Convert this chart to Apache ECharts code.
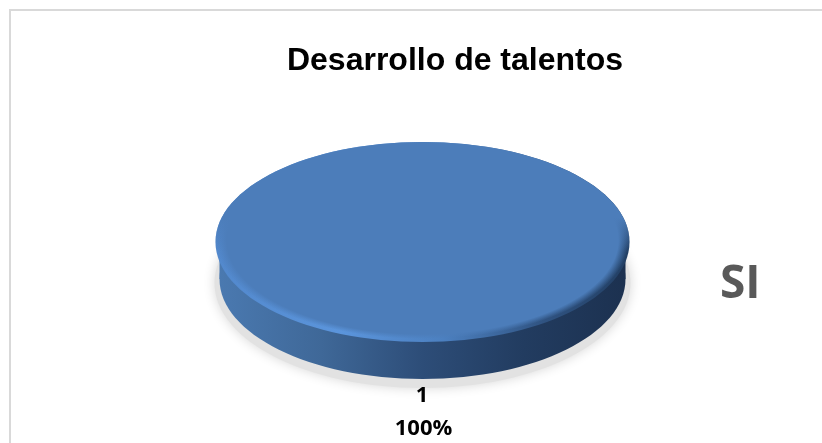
<!DOCTYPE html>
<html>
<head>
<meta charset="utf-8">
<style>html,body{margin:0;padding:0;background:#fff}#chart{width:822px;height:443px}</style>
<script src="https://cdn.jsdelivr.net/npm/echarts@6/dist/echarts.min.js"></script>
</head>
<body>
<div id="chart"></div>
<script>
const chartTitle = 'Desarrollo de talentos';
const sliceCategories = ['1'];
const sliceValues = [1];
const legendNames = ['SI'];

// Disc geometry for the tilted pie
const CX = 422.5, CY = 242, RX = 207, RY = 100, DEPTH = 37;
const FACE = '#4c7dba';
const FACE_CLEAR = 'rgba(76,125,186,0)';
const total = sliceValues.reduce((a, b) => a + b, 0);

function ellipse(cx, cy, rx, ry, style) {
  return { type: 'ellipse', shape: { cx, cy, rx, ry }, style };
}
function gradient(x2, y2, stops) {
  return {
    type: 'linear', x: 0, y: 0, x2, y2,
    colorStops: stops.map(([offset, color]) => ({ offset, color }))
  };
}

function renderDisc(params, api) {
  const value = api.value(0);
  const start = -Math.PI / 2;
  const end = start + (value / total) * Math.PI * 2;
  const wall = gradient(1, 0, [[0, '#4a79b0'], [0.25, '#3f6898'], [0.5, '#2d4d78'], [0.75, '#223c60'], [1, '#1c3150']]);
  const rim = gradient(1, 0, [[0, '#5288cc'], [0.3, '#5b95dc'], [0.55, '#4c80c0'], [0.8, '#2f5280'], [1, '#223f64']]);
  const rimFade = gradient(0, 1, [[0, FACE], [0.38, FACE], [0.55, FACE_CLEAR], [1, FACE_CLEAR]]);
  const faceFill = {
    type: 'radial', x: 0.5, y: 0.5, r: 0.5,
    colorStops: [{ offset: 0, color: FACE }, { offset: 0.95, color: FACE }, { offset: 1, color: FACE_CLEAR }]
  };
  return {
    type: 'group',
    children: [
      // soft ground shadow
      ellipse(CX, CY + DEPTH + 4, RX + 1, RY + 5, {
        fill: '#e2e2e2', shadowBlur: 12, shadowColor: 'rgba(0,0,0,0.16)'
      }),
      // side wall
      ellipse(CX, CY + DEPTH, RX - 4, RY, { fill: wall }),
      { type: 'rect', shape: { x: CX - RX + 4, y: CY, width: (RX - 4) * 2, height: DEPTH }, style: { fill: wall } },
      // bevelled rim, lit along the lower edge only
      ellipse(CX, CY, RX, RY, { fill: rim }),
      ellipse(CX, CY, RX, RY, { fill: rimFade }),
      // top face, drawn as a slice of the value's share
      {
        type: 'sector',
        x: CX, y: CY - 1.5,
        scaleX: 1, scaleY: 98.5 / 206,
        shape: { cx: 0, cy: 0, r: 206, r0: 0, startAngle: start, endAngle: end },
        style: { fill: faceFill }
      }
    ]
  };
}

const chart = echarts.init(document.getElementById('chart'), null, { renderer: 'canvas' });
chart.setOption({
  animation: false,
  backgroundColor: '#ffffff',
  title: {
    text: chartTitle, left: 450, top: 40, textAlign: 'center',
    textStyle: { fontFamily: 'Liberation Sans', fontSize: 32, fontWeight: 'bold', color: '#000' }
  },
  legend: {
    data: legendNames, left: 710, top: 257, icon: 'none', itemWidth: 0, itemHeight: 0, itemGap: 0,
    selectedMode: false,
    textStyle: { fontFamily: 'Open Sans', fontSize: 46, fontWeight: 'bold', color: '#595959', padding: 0 }
  },
  graphic: [{
    type: 'polyline', silent: true,
    shape: { points: [[10, 443], [10, 10], [822, 10]] },
    style: { stroke: '#d9d9d9', lineWidth: 2, fill: null }
  }],
  series: [{
    type: 'custom', name: legendNames[0], coordinateSystem: 'none',
    renderItem: renderDisc, data: sliceValues.map((v, i) => ({ name: sliceCategories[i], value: v })),
    silent: true
  }, {
    // category and percentage captions under the disc
    type: 'custom', coordinateSystem: 'none', silent: true,
    data: sliceValues.map((v, i) => ({ name: sliceCategories[i], value: v })),
    renderItem(params, api) {
      const i = params.dataIndex;
      const pct = Math.round(api.value(0) / total * 100) + '%';
      const font = { fontFamily: 'Open Sans', fontSize: 22, fontWeight: 'bold', fill: '#000', align: 'center', verticalAlign: 'middle' };
      return { type: 'group', children: [
        { type: 'text', style: { ...font, x: 422, y: 396, text: sliceCategories[i] } },
        { type: 'text', style: { ...font, x: 423.5, y: 429, text: pct } }
      ] };
    }
  }]
});
</script>
</body>
</html>
